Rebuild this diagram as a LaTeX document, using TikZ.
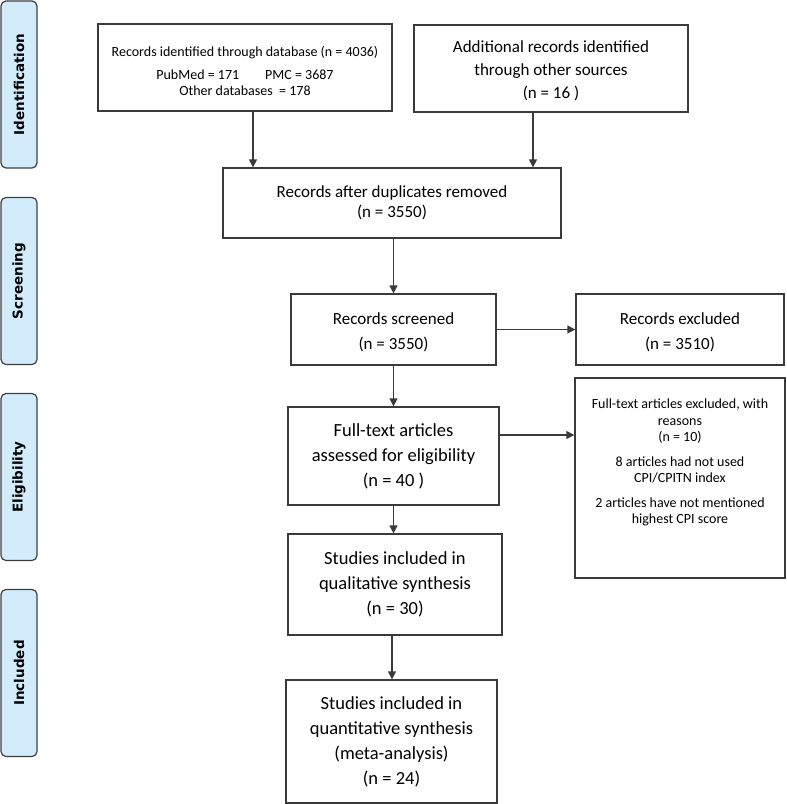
\documentclass[tikz,border=0pt]{standalone}
\usepackage{fontspec}
\setmainfont{Carlito}
\newfontfamily\sidefont{DejaVu Sans}
\usetikzlibrary{arrows.meta}
\definecolor{boxline}{HTML}{3A3A3A}
\definecolor{sideline}{HTML}{3F3F3F}
\definecolor{sidefill}{HTML}{D2ECFC}
\newcommand{\boxtext}[4]{\parbox{#1}{\centering\fontsize{#2}{#3}\selectfont #4\par}}
\begin{document}
\begin{tikzpicture}[x=1pt,y=-1pt,
  plainbox/.style={draw=boxline,line width=1.3pt,inner sep=0pt,fill=white},
  toptext/.style={anchor=north,inner sep=0pt},
  sidebar/.style={draw=sideline,fill=sidefill,rounded corners=5pt,line width=1.2pt,
    minimum width=36,minimum height=167,inner sep=0pt},
  sidelabel/.style={font=\sidefont\bfseries\fontsize{13.5}{15}\selectfont,rotate=90},
  conn/.style={draw=boxline,line width=1.3pt,-{Triangle[length=8pt,width=8pt]}}
]
\useasboundingbox (0,0) rectangle (787,804);

% side bars
\node[sidebar] (sid) at (19,84.5) {};
\node[sidelabel] at (sid.center) {Identification};
\node[sidebar] (sscr) at (19,281) {};
\node[sidelabel] at (sscr.center) {Screening};
\node[sidebar] (seli) at (19,477) {};
\node[sidelabel] at (seli.center) {Eligibility};
\node[sidebar] (sinc) at (19,673) {};
\node[sidelabel] at (sinc.center) {Included};

% boxes
\node[plainbox,minimum width=294,minimum height=87] (b1) at (245,67.5) {};
\node[toptext] (b1t) at (245,46)
  {\boxtext{286pt}{14}{16}{Records identified through database (n = 4036)\\[7pt]
   PubMed = 171\hspace{26pt}PMC = 3687\\
   Other databases\ \ = 178}};
\node[plainbox,minimum width=274,minimum height=87] (b2) at (551,68.5)
  {\boxtext{266pt}{17}{23}{\vspace*{4pt}Additional records identified\\ through other sources\\ (n = 16 )}};
\node[plainbox,minimum width=338,minimum height=70] (b3) at (392,203)
  {\boxtext{330pt}{17}{20}{Records after duplicates removed\\ (n = 3550)}};
\node[plainbox,minimum width=205,minimum height=71] (b4) at (393.5,329.5)
  {\boxtext{197pt}{17}{25}{\vspace*{5pt}Records screened\\ (n = 3550)}};
\node[plainbox,minimum width=208,minimum height=71] (x1) at (680,329.5)
  {\boxtext{200pt}{17}{25}{\vspace*{5pt}Records excluded\\ (n = 3510)}};
\node[plainbox,minimum width=211,minimum height=98] (b5) at (393.5,456)
  {\boxtext{203pt}{18.5}{25}{Full-text articles\\ assessed for eligibility\\ (n = 40 )}};
\node[plainbox,minimum width=210,minimum height=200] (x2) at (680,478) {};
\node[toptext] (x2t) at (680,399)
  {\boxtext{202pt}{14}{16.5}{Full-text articles excluded, with\\ reasons\\ (n = 10)\\[8pt]
   8 articles had not used\\ CPI/CPITN index\\[8pt]
   2 articles have not mentioned\\ highest CPI score}};
\node[plainbox,minimum width=214,minimum height=101] (b6) at (395,584.5)
  {\boxtext{206pt}{18.5}{25}{Studies included in\\ qualitative synthesis\\ (n = 30)}};
\node[plainbox,minimum width=211,minimum height=123] (b7) at (391.5,741.5)
  {\boxtext{203pt}{18.5}{25}{Studies included in\\ quantitative synthesis\\ (meta-analysis)\\ (n = 24)}};

% connectors
\coordinate (a1) at (253,111);
\coordinate (a2) at (533,112);
\coordinate (a5) at (499,435);
\coordinate (a6) at (392,635);
\draw[conn] (a1) -- (a1 |- b3.north);
\draw[conn] (a2) -- (a2 |- b3.north);
\draw[conn] (b4.north |- b3.south) -- (b4.north);
\draw[conn] (b4.east) -- (x1.west);
\draw[conn] (b4.south) -- (b4.south |- b5.north);
\draw[conn] (a5) -- (a5 -| x2.west);
\draw[conn] (b5.south) -- (b5.south |- b6.north);
\draw[conn] (a6) -- (a6 |- b7.north);
\end{tikzpicture}
\end{document}
